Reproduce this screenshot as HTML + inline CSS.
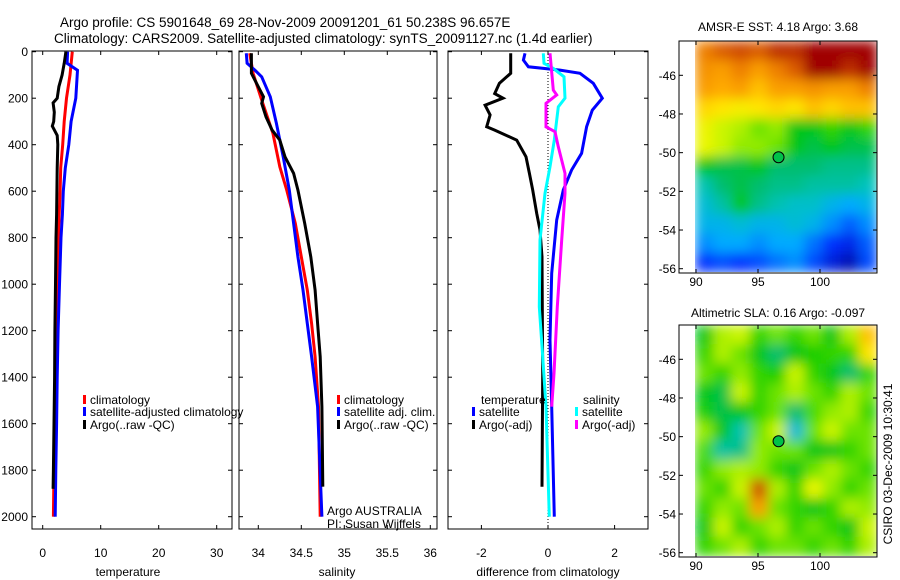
<!DOCTYPE html>
<html><head><meta charset="utf-8"><style>
body{margin:0;background:#fff;}
svg{display:block;font-family:"Liberation Sans",sans-serif;}
</style></head><body>
<svg id="c" width="900" height="580" viewBox="0 0 900 580" xmlns="http://www.w3.org/2000/svg">
<defs>
<filter id="bl" x="0" y="0" width="1" height="1"><feGaussianBlur stdDeviation="6" edgeMode="duplicate"/></filter>
<clipPath id="cp1"><rect x="695" y="41" width="182" height="231"/></clipPath>
<clipPath id="cp2"><rect x="695" y="325" width="182" height="231"/></clipPath>
</defs>
<text x="60" y="27" font-size="13.5">Argo profile: CS 5901648_69 28-Nov-2009 20091201_61 50.238S 96.657E</text>
<text x="54" y="43" font-size="13.5">Climatology: CARS2009. Satellite-adjusted climatology: synTS_20091127.nc (1.4d earlier)</text>
<g id="g"></g>
</svg>
<script>
// ---- data ----
const depthTicks=[0,200,400,600,800,1000,1200,1400,1600,1800,2000];
const tTicks=[0,10,20,30];
const sTicks=[34,34.5,35,35.5,36];
const dTicks=[-2,0,2];
const tClimDepth=[0,100,200,300,400,500,600,700,800,1000,1200,1400,1600,1800,2000];
const tClimVal=[5.1,4.7,4.1,3.7,3.45,3.1,3.0,2.85,2.7,2.5,2.35,2.2,2.1,1.95,1.85];
const tSatDepth=[0,50,80,200,300,400,500,600,700,800,1000,1200,1400,1600,1800,2000];
const tSatVal=[4.3,4.2,6.0,5.7,4.9,4.5,3.9,3.55,3.4,3.15,2.9,2.65,2.5,2.4,2.25,2.15];
const tArgoDepth=[0,50,100,150,200,220,260,300,320,360,400,500,600,700,800,1000,1200,1400,1600,1800,1880];
const tArgoVal=[4.0,3.7,3.35,2.8,2.5,1.8,2.0,1.9,1.65,2.5,2.6,2.5,2.45,2.4,2.3,2.2,2.1,2.05,1.95,1.85,1.8];
const sClimDepth=[7,93,208,351,495,595,738,882,1025,1169,1312,1527,2000];
const sClimVal=[33.90,33.94,34.04,34.17,34.25,34.33,34.43,34.50,34.57,34.62,34.66,34.70,34.72];
const sSatDepth=[7,50,79,108,194,308,452,595,738,882,1025,1169,1312,1527,2000];
const sSatVal=[33.86,33.87,33.96,34.04,34.14,34.21,34.29,34.36,34.41,34.46,34.52,34.57,34.62,34.69,34.74];
const sArgoDepth=[7,93,165,194,222,280,337,380,452,523,595,738,882,1025,1169,1312,1527,1871];
const sArgoVal=[33.92,33.92,34.02,34.06,34.04,34.09,34.16,34.25,34.31,34.41,34.46,34.54,34.61,34.66,34.69,34.72,34.74,34.75];
const dTArgoDepth=[7,93,136,180,200,230,272,323,337,380,452,523,595,695,767,882,1384,1871];
const dTArgoVal=[-1.12,-1.12,-1.46,-1.6,-1.35,-1.89,-1.74,-1.84,-1.6,-0.94,-0.66,-0.56,-0.46,-0.34,-0.24,-0.18,-0.16,-0.18];
const dTSatDepth=[7,36,65,79,93,136,200,251,323,437,509,595,724,953,1240,1527,2000];
const dTSatVal=[-0.69,-0.74,-0.59,0.36,0.96,1.36,1.63,1.33,1.16,1.01,0.71,0.46,0.26,0.11,0.06,0.11,0.19];
const dSSatDepth=[7,50,72,108,200,237,380,495,609,810,1097,1312,1527,2000];
const dSSatVal=[-0.14,-0.12,0.16,0.48,0.51,0.31,0.19,0.06,-0.09,-0.24,-0.26,-0.16,-0.06,0.04];
const dSArgoDepth=[7,165,186,222,323,344,409,523,609,810,1097,1384,1527];
const dSArgoVal=[0.06,0.16,0.26,-0.06,-0.06,0.21,0.31,0.51,0.51,0.41,0.28,0.18,0.11];
const sstGrid=[
[0.85,0.9,0.92,0.9,0.95,0.95,1,1,1,1],
[0.82,0.8,0.85,0.8,0.85,0.9,1,1,0.95,1],
[0.8,0.78,0.8,0.75,0.8,0.8,0.82,0.8,0.8,0.85],
[0.72,0.7,0.68,0.7,0.72,0.7,0.75,0.72,0.75,0.75],
[0.66,0.62,0.6,0.55,0.58,0.45,0.45,0.5,0.45,0.5],
[0.65,0.62,0.58,0.58,0.55,0.45,0.42,0.45,0.42,0.42],
[0.45,0.42,0.42,0.45,0.4,0.4,0.4,0.38,0.38,0.38],
[0.35,0.4,0.42,0.4,0.38,0.38,0.36,0.36,0.36,0.34],
[0.32,0.36,0.45,0.38,0.35,0.33,0.33,0.3,0.28,0.3],
[0.3,0.3,0.32,0.3,0.3,0.32,0.3,0.25,0.2,0.25],
[0.25,0.28,0.28,0.25,0.28,0.28,0.22,0.15,0.12,0.2],
[0.15,0.18,0.15,0.18,0.22,0.25,0.18,0.1,0.05,0.18]];
const slaGrid=[
[0.45,0.6,0.62,0.5,0.55,0.5,0.55,0.45,0.6,0.75],
[0.5,0.6,0.55,0.45,0.4,0.45,0.48,0.5,0.5,0.7],
[0.55,0.5,0.58,0.5,0.48,0.62,0.5,0.45,0.4,0.5],
[0.45,0.42,0.62,0.5,0.55,0.6,0.55,0.5,0.6,0.55],
[0.48,0.42,0.45,0.5,0.55,0.4,0.52,0.58,0.6,0.5],
[0.58,0.45,0.35,0.55,0.62,0.32,0.55,0.62,0.55,0.55],
[0.52,0.36,0.38,0.58,0.55,0.55,0.45,0.45,0.5,0.55],
[0.5,0.58,0.6,0.58,0.5,0.45,0.55,0.6,0.55,0.5],
[0.55,0.5,0.62,0.92,0.6,0.5,0.65,0.58,0.5,0.55],
[0.5,0.58,0.55,0.8,0.55,0.5,0.45,0.5,0.6,0.58],
[0.45,0.62,0.5,0.55,0.6,0.5,0.55,0.5,0.45,0.62],
[0.5,0.55,0.6,0.5,0.55,0.55,0.5,0.55,0.5,0.6]];
const lonTicks=[90,95,100];
const latTicks=[-46,-48,-50,-52,-54,-56];
const argoLon=96.657, argoLat=-50.238;

// ---- drawing ----
const NS='http://www.w3.org/2000/svg';
const G=document.getElementById('g');
function mk(tag,at,parent){const e=document.createElementNS(NS,tag);for(const k in at)e.setAttribute(k,at[k]);(parent||G).appendChild(e);return e;}
const Y0=51.7,DY=0.2325;
const yD=d=>Y0+d*DY;
const xT=v=>42.7+v*5.8;
const xS=v=>258.3+(v-34)*86;
const xDf=v=>548+v*33.3;
const TOP=51,BOT=529;
function frame(name,x0,x1,xt,ticks,fmt,label,lx,yl){
  const r=mk('rect',{x:x0,y:TOP,width:x1-x0,height:BOT-TOP,fill:'none',stroke:'#000','stroke-width':1});
  
  depthTicks.forEach(d=>{const y=yD(d);
    mk('line',{x1:x0,x2:x0+4,y1:y,y2:y,stroke:'#000'});mk('line',{x1:x1-4,x2:x1,y1:y,y2:y,stroke:'#000'});
    if(yl){const t=mk('text',{x:28,y:y+4.5,'font-size':12,'text-anchor':'end'});t.textContent=d;
      }
  });
  ticks.forEach(v=>{const x=xt(v);
    mk('line',{x1:x,x2:x,y1:BOT,y2:BOT-4,stroke:'#000'});mk('line',{x1:x,x2:x,y1:TOP,y2:TOP+4,stroke:'#000'});
    const t=mk('text',{x:x,y:557,'font-size':12,'text-anchor':'middle'});t.textContent=fmt(v);
    
  });
  const t=mk('text',{x:lx,y:576,'font-size':12,'text-anchor':'middle'});t.textContent=label;
  
}
function line(name,ds,vs,xf,col){
  const p=mk('polyline',{points:ds.map((d,i)=>xf(vs[i]).toFixed(1)+','+yD(d).toFixed(1)).join(' '),fill:'none',stroke:col,'stroke-width':3});
  
}
function leg(name,x,y,col,txt){
  if(col){const r=mk('rect',{x:x,y:y-9,width:3,height:9,fill:col});}
  const t=mk('text',{x:x+(col?7:0),y:y,'font-size':12});t.textContent=txt;
  
}
frame('temperature-panel',32,232,xT,tTicks,v=>v,'temperature',128,true);
frame('salinity-panel',239,437,xS,sTicks,v=>v,'salinity',337,false);
frame('difference-panel',448,648,xDf,dTicks,v=>v,'difference from climatology',548,false);
line('temp-climatology-line',tClimDepth,tClimVal,xT,'#ff0000');
line('temp-satellite-line',tSatDepth,tSatVal,xT,'#0000ff');
line('temp-argo-line',tArgoDepth,tArgoVal,xT,'#000');
line('sal-climatology-line',sClimDepth,sClimVal,xS,'#ff0000');
line('sal-satellite-line',sSatDepth,sSatVal,xS,'#0000ff');
line('sal-argo-line',sArgoDepth,sArgoVal,xS,'#000');
mk('line',{x1:xDf(0),x2:xDf(0),y1:TOP,y2:BOT,stroke:'#000','stroke-dasharray':'1,2'});
line('diff-temp-argo-line',dTArgoDepth,dTArgoVal,xDf,'#000');
line('diff-temp-satellite-line',dTSatDepth,dTSatVal,xDf,'#0000ff');
line('diff-sal-satellite-line',dSSatDepth,dSSatVal,xDf,'#00ffff');
line('diff-sal-argo-line',dSArgoDepth,dSArgoVal,xDf,'#ff00ff');
leg('legend-climatology',83,404,'#ff0000','climatology');
leg('legend-satellite-adjusted',83,416,'#0000ff','satellite-adjusted climatology');
leg('legend-argo',83,429,'#000','Argo(..raw -QC)');
leg('legend2-climatology',337,404,'#ff0000','climatology');
leg('legend2-satellite',337,416,'#0000ff','satellite adj. clim.');
leg('legend2-argo',337,429,'#000','Argo(..raw -QC)');
leg('argo-australia-label',327,515,null,'Argo AUSTRALIA');
leg('pi-label',327,528,null,'PI: Susan Wijffels');
leg('legend3-temp-header',481,404,null,'temperature');
leg('legend3-temp-satellite',472,416,'#0000ff','satellite');
leg('legend3-temp-argo',472,429,'#000','Argo(-adj)');
leg('legend3-sal-header',583,404,null,'salinity');
leg('legend3-sal-satellite',575,416,'#00ffff','satellite');
leg('legend3-sal-argo',575,429,'#ff00ff','Argo(-adj)');

// maps
const stops=[[0,[0,0,143]],[0.15,[0,48,255]],[0.28,[0,170,255]],[0.34,[0,195,190]],[0.4,[0,190,110]],[0.46,[0,200,0]],[0.56,[120,230,0]],[0.64,[230,250,0]],[0.7,[255,230,0]],[0.78,[255,170,0]],[0.88,[230,110,0]],[1,[160,0,0]]];
function cmap(v){v=Math.max(0,Math.min(1,v));for(let i=1;i<stops.length;i++){if(v<=stops[i][0]){const a=stops[i-1],b=stops[i],f=(v-a[0])/(b[0]-a[0]);return 'rgb('+a[1].map((c,k)=>Math.round(c+(b[1][k]-c)*f)).join(',')+')';}}return 'rgb(160,0,0)';}
function map(name,grid,y0,title,tY,tickY0){
  const fr=mk('rect',{x:679,y:y0,width:198,height:232,fill:'#fff',stroke:'#000'});
  
  const gr=mk('g',{'clip-path':'url(#'+(name==='sst-map'?'cp1':'cp2')+')'});
  const g2=mk('g',{filter:'url(#bl)'},gr);
  const rows=grid.length,cols=grid[0].length,cw=182/cols,ch=231/rows;
  grid.forEach((row,r)=>row.forEach((v,c)=>{
    const cell=mk('rect',{x:695+c*cw,y:y0+r*ch,width:cw+0.5,height:ch+0.5,fill:cmap(v)},g2);
    
    
  }));
  mk('rect',{x:679,y:y0,width:198,height:232,fill:'none',stroke:'#000'});
  const lonX=l=>696+(l-90)*12.4, latY=l=>tickY0+(-46-l)*19.34;
  lonTicks.forEach(l=>{const x=lonX(l);mk('line',{x1:x,x2:x,y1:y0+232,y2:y0+228,stroke:'#000'});mk('line',{x1:x,x2:x,y1:y0,y2:y0+4,stroke:'#000'});
    const t=mk('text',{x:x,y:y0+245,'font-size':12,'text-anchor':'middle'});t.textContent=l;
    });
  latTicks.forEach(l=>{const y=latY(l);mk('line',{x1:877,x2:873,y1:y,y2:y,stroke:'#000'});mk('line',{x1:679,x2:683,y1:y,y2:y,stroke:'#000'});
    const t=mk('text',{x:676,y:y+4.5,'font-size':12,'text-anchor':'end'});t.textContent=l;
    });
  const c=mk('circle',{cx:lonX(argoLon),cy:latY(argoLat),r:5.5,fill:cmap(0.42),stroke:'#000','stroke-width':1});
  
  const t=mk('text',{x:778,y:tY,'font-size':12,'text-anchor':'middle'});t.textContent=title;
  
}
map('sst-map',sstGrid,41,'AMSR-E SST: 4.18 Argo: 3.68',31,75.3);
map('sla-map',slaGrid,325,'Altimetric SLA: 0.16 Argo: -0.097',317,359.3);
const ts=mk('text',{x:0,y:0,'font-size':12,'text-anchor':'middle',transform:'translate(892,464) rotate(-90)'});
ts.textContent='CSIRO 03-Dec-2009 10:30:41';

</script>
</body></html>
